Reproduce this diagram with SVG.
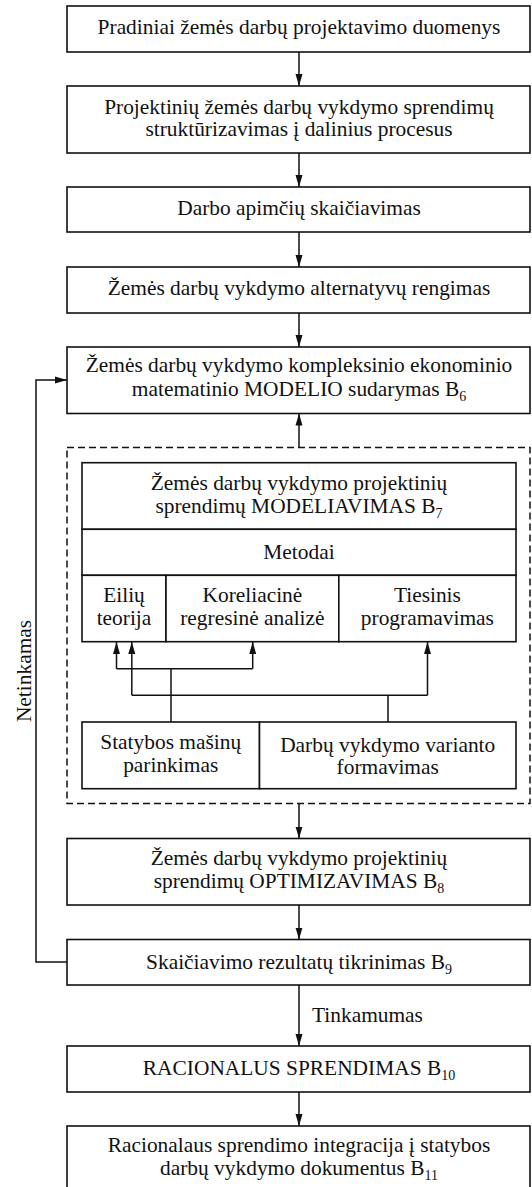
<svg xmlns="http://www.w3.org/2000/svg" width="532" height="1187" viewBox="0 0 532 1187" font-family="'Liberation Serif', 'Times New Roman', Times, 'Noto Serif', 'DejaVu Serif', serif">
<style>
.box{fill:#fff;stroke:#111;stroke-width:1.6}
.dash{fill:none;stroke:#111;stroke-width:1.5;stroke-dasharray:7 4}
.ln{fill:none;stroke:#111;stroke-width:1.5}
.arr{fill:none;stroke:#111;stroke-width:1.5;marker-end:url(#ah)}
text{font-family:'Liberation Serif','Times New Roman',Times,'Noto Serif','DejaVu Serif',serif;font-size:21.4px;fill:#111;text-anchor:middle}
.sub{font-size:14px}
</style>
<defs>
<marker id="ah" markerUnits="userSpaceOnUse" markerWidth="12" markerHeight="8" refX="12" refY="4" orient="auto" viewBox="0 0 12 8">
<path d="M0,0.5 L12,4 L0,7.5 z" fill="#111"/>
</marker>
</defs>

<g id="connectors">
<line class="arr" x1="299" y1="52" x2="299" y2="86"/>
<line class="arr" x1="299" y1="153" x2="299" y2="187"/>
<line class="arr" x1="299" y1="232" x2="299" y2="267"/>
<line class="arr" x1="299" y1="313" x2="299" y2="347"/>
<line class="arr" x1="299" y1="447.5" x2="299" y2="413.5"/>
<line class="arr" x1="299" y1="803.5" x2="299" y2="838.5"/>
<line class="arr" x1="299" y1="905" x2="299" y2="939.5"/>
<line class="arr" x1="299" y1="985" x2="299" y2="1046"/>
<line class="arr" x1="299" y1="1092" x2="299" y2="1126"/>
<polyline class="arr" points="67,962 36,962 36,380 67,380"/>
<polyline class="ln" points="171,722 171,668.7"/>
<polyline class="ln" points="116.5,668.7 252.7,668.7"/>
<line class="arr" x1="116.5" y1="668.7" x2="116.5" y2="642"/>
<line class="arr" x1="252.7" y1="668.7" x2="252.7" y2="642"/>
<polyline class="ln" points="388,722 388,695.3"/>
<polyline class="ln" points="131.8,695.3 427.5,695.3"/>
<line class="arr" x1="131.8" y1="695.3" x2="131.8" y2="642"/>
<line class="arr" x1="427.5" y1="695.3" x2="427.5" y2="642"/>
<text x="0" y="0" transform="translate(31,671) rotate(-90)">Netinkamas</text>
<text x="312" y="1021.5" style="text-anchor:start">Tinkamumas</text>
</g>

<g id="b1">
<rect class="box" x="67" y="6" width="463" height="46"/>
<text x="299" y="33.5">Pradiniai žemės darbų projektavimo duomenys</text>
</g>
<g id="b2">
<rect class="box" x="67" y="86" width="463" height="67"/>
<text x="299" y="113.5">Projektinių žemės darbų vykdymo sprendimų</text>
<text x="299" y="135.5">struktūrizavimas į dalinius procesus</text>
</g>
<g id="b3">
<rect class="box" x="67" y="187" width="463" height="45"/>
<text x="299" y="215">Darbo apimčių skaičiavimas</text>
</g>
<g id="b4">
<rect class="box" x="67" y="267" width="463" height="46"/>
<text x="299" y="295">Žemės darbų vykdymo alternatyvų rengimas</text>
</g>
<g id="b6">
<rect class="box" x="67" y="347" width="463" height="66.5"/>
<text x="299" y="372">Žemės darbų vykdymo kompleksinio ekonominio</text>
<text x="299" y="395.5">matematinio MODELIO sudarymas B<tspan class="sub" dy="5">6</tspan></text>
</g>

<g id="modeling-group">
<rect class="dash" x="67" y="447.5" width="463" height="356"/>
</g>
<g id="b7">
<rect class="box" x="82" y="462.7" width="434" height="66.6"/>
<text x="299" y="490">Žemės darbų vykdymo projektinių</text>
<text x="299" y="512.5">sprendimų MODELIAVIMAS B<tspan class="sub" dy="5">7</tspan></text>
</g>
<g id="metodai">
<rect class="box" x="82" y="529.3" width="434" height="46"/>
<text x="299" y="559.3">Metodai</text>
</g>
<g id="eiliu">
<rect class="box" x="82" y="575.3" width="84" height="66.4"/>
<text x="124" y="601.7">Eilių</text>
<text x="124" y="625">teorija</text>
</g>
<g id="koreliacine">
<rect class="box" x="166" y="575.3" width="172.8" height="66.4"/>
<text x="252.4" y="601.7">Koreliacinė</text>
<text x="252.4" y="625">regresinė analizė</text>
</g>
<g id="tiesinis">
<rect class="box" x="338.8" y="575.3" width="177.2" height="66.4"/>
<text x="427.4" y="601.7">Tiesinis</text>
<text x="427.4" y="625">programavimas</text>
</g>
<g id="statybos">
<rect class="box" x="82" y="722" width="177.5" height="66.7"/>
<text x="170.7" y="749">Statybos mašinų</text>
<text x="170.7" y="771.7">parinkimas</text>
</g>
<g id="variantas">
<rect class="box" x="259.5" y="722" width="256.5" height="66.7"/>
<text x="387.7" y="751.7">Darbų vykdymo varianto</text>
<text x="387.7" y="774">formavimas</text>
</g>

<g id="b8">
<rect class="box" x="67" y="838.5" width="463" height="66.5"/>
<text x="299" y="865">Žemės darbų vykdymo projektinių</text>
<text x="299" y="888.3">sprendimų OPTIMIZAVIMAS B<tspan class="sub" dy="5">8</tspan></text>
</g>
<g id="b9">
<rect class="box" x="67" y="939.5" width="463" height="45.5"/>
<text x="299" y="968.5">Skaičiavimo rezultatų tikrinimas B<tspan class="sub" dy="5">9</tspan></text>
</g>
<g id="b10">
<rect class="box" x="67" y="1046" width="463" height="46"/>
<text x="299" y="1074.5">RACIONALUS SPRENDIMAS B<tspan class="sub" dy="5">10</tspan></text>
</g>
<g id="b11">
<rect class="box" x="67" y="1126" width="463" height="67"/>
<text x="299" y="1151.7">Racionalaus sprendimo integracija į statybos</text>
<text x="299" y="1175">darbų vykdymo dokumentus B<tspan class="sub" dy="5">11</tspan></text>
</g>
</svg>
